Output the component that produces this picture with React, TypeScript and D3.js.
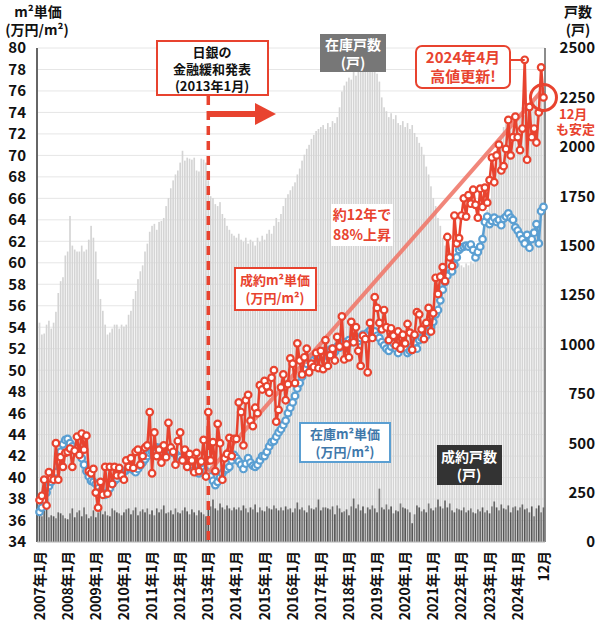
import React from "react";
import * as d3 from "d3";

// monthly data 2007-01 .. 2024-12
const years = d3.range(2007, 2025);
const months = years.flatMap((y) => d3.range(1, 13).map((m) => `${y}-${m}`));

// 成約m²単価 (万円/m²)
const contractPrice = [
  37.9, 38.3, 39.8, 37.4, 40.5, 39.9, 39.8, 43.2, 39.8, 41.9, 41.0, 42.3,
  42.4, 42.7, 41.0, 42.5, 43.8, 42.1, 44.1, 42.6, 43.9, 40.6, 40.4, 40.8,
  38.6, 37.2, 39.6, 38.4, 41.0, 38.5, 41.0, 39.4, 41.0, 40.2, 40.9, 40.2,
  39.8, 41.6, 41.0, 41.8, 40.9, 42.4, 42.6, 41.2, 42.0, 42.8, 43.0, 46.1,
  40.4, 44.2, 42.0, 42.6, 41.4, 43.0, 41.9, 45.1, 42.8, 42.4, 41.2, 43.4,
  44.2, 41.6, 42.6, 41.0, 42.2, 41.6, 40.5, 42.3, 40.6, 41.5, 43.5, 40.1,
  46.1, 41.6, 43.3, 40.6, 45.0, 43.2, 39.8, 41.8, 42.2, 43.7, 42.0, 43.6,
  43.6, 47.0, 46.1, 43.0, 47.2, 47.7, 45.3, 44.8, 46.5, 46.0, 48.6, 48.2,
  49.0, 48.5, 47.9, 49.3, 50.0, 45.2, 46.3, 48.4, 49.6, 47.2, 48.7, 51.1,
  50.6, 48.8, 52.5, 50.9, 49.6, 51.2, 52.0, 49.8, 50.6, 50.3, 51.6, 50.2,
  51.8, 50.1, 52.8, 50.4, 51.4, 52.0, 50.9, 53.1, 52.2, 55.0, 51.0, 52.4,
  51.2, 54.5, 52.6, 54.0, 51.8, 50.4, 53.2, 52.9, 49.8, 54.4, 53.0, 56.8,
  55.8, 54.4, 53.8, 55.6, 54.0, 52.8, 53.9, 53.2, 52.3, 53.6, 52.0, 53.3,
  52.5, 54.3, 53.5, 51.9, 53.3, 55.4, 55.2, 53.8, 52.9, 54.4, 55.8, 53.6,
  55.3, 58.6, 57.1, 58.7, 59.6, 58.3, 62.4, 60.5, 59.7, 64.4, 61.8, 62.3,
  64.4, 66.0, 64.3, 66.3, 65.5, 66.8, 65.4, 64.2, 66.9, 65.2, 67.0, 65.6,
  67.7, 69.8, 67.5, 70.0, 71.0, 68.6, 69.0, 70.6, 73.3, 70.0, 71.7, 73.6,
  71.7, 70.5, 72.5, 78.9, 69.6, 74.5, 71.7, 72.5, 71.2, 74.0, 78.2, 75.4,
];

// 在庫m²単価 (万円/m²)
const stockPrice = [
  36.8, 37.2, 37.9, 38.6, 39.2, 39.6, 40.0, 40.5, 41.5, 42.4, 43.1, 43.5,
  43.6, 43.2, 42.9, 42.6, 42.8, 42.3, 41.8, 41.2, 40.6, 40.1, 39.7, 39.6,
  39.4, 39.0, 38.7, 38.5, 38.4, 38.6, 39.0, 39.4, 39.7, 39.9, 40.2, 40.3,
  40.5, 40.7, 40.9, 41.0, 40.7, 40.5, 40.8, 41.1, 41.4, 41.7, 42.0, 42.3,
  42.4, 42.6, 42.8, 42.7, 42.8, 42.6, 42.5, 42.6, 42.4, 42.3, 42.2, 42.0,
  41.9, 41.7, 41.5, 41.3, 41.1, 40.9, 40.7, 40.5, 40.4, 40.6, 40.8, 40.6,
  40.4, 40.1, 39.7, 39.3, 39.6, 40.0, 40.4, 40.7, 40.8, 41.0, 41.6, 42.1,
  41.8, 41.5, 41.2, 40.8, 41.3, 41.8, 41.4, 41.1, 41.0, 41.2, 41.6, 42.0,
  42.0, 42.4, 42.9, 43.3, 43.4, 43.8, 44.2, 44.5, 44.9, 45.3, 46.0, 46.5,
  47.0, 47.6, 48.3, 48.8, 49.4, 50.2, 50.6, 50.9, 51.2, 51.0, 51.3, 51.4,
  51.5, 51.3, 51.8, 51.6, 51.9, 52.0, 51.7, 52.2, 52.1, 52.4, 52.6, 52.3,
  52.8, 52.6, 52.9, 53.1, 52.7, 53.0, 53.3, 53.2, 53.5, 53.7, 53.4, 53.6,
  53.2, 53.0, 52.6, 52.3, 52.0, 51.8, 52.2, 52.5, 52.0, 51.6, 52.0, 52.4,
  52.0, 51.6, 51.8, 52.2, 52.6, 52.0, 52.8, 53.0, 53.4, 53.2, 53.6, 54.0,
  54.5, 55.2, 55.6, 56.5, 57.5, 58.2, 58.8, 59.4, 59.2, 59.8, 60.5, 61.2,
  61.4, 61.5, 61.6, 61.5, 61.7, 61.2, 60.5, 61.0, 61.5, 62.2, 63.8, 64.3,
  63.6, 63.9, 64.2, 63.8, 64.0, 63.5, 64.1, 64.3, 64.6, 64.2, 64.0, 63.3,
  63.0, 62.6, 62.2, 61.8, 62.6, 61.4, 62.2, 62.8, 63.6, 61.8, 64.8, 65.2,
];

// 在庫戸数 (戸)
const stockUnits = [
  1110, 1050, 1055, 1100, 1120, 1080, 1110, 1165, 1260, 1320, 1340, 1450,
  1470, 1650, 1500, 1480, 1470, 1470, 1500, 1470, 1480, 1530, 1600, 1540,
  1470, 1330, 1230, 1170, 1100, 1050, 1060, 1080, 1100, 1100, 1080, 1100,
  1090, 1100, 1150, 1170, 1230, 1270, 1330, 1370, 1400, 1470, 1510, 1570,
  1600, 1610, 1580, 1620, 1625, 1640, 1700, 1740, 1790, 1830, 1860, 1880,
  1920, 1980, 1930, 1945, 1940, 1935, 1945, 1880, 1875, 1940, 1935, 1920,
  1830, 1750, 1740, 1710, 1700, 1720, 1660, 1640, 1600, 1580, 1560, 1550,
  1540, 1560, 1530, 1520, 1540, 1510, 1530, 1520, 1500, 1540, 1520, 1550,
  1530, 1560, 1580, 1560, 1600, 1640, 1620, 1660, 1700, 1740, 1760, 1780,
  1800, 1820, 1860, 1890, 1930, 1960, 1990, 2010, 2040, 2060, 2080, 2090,
  2100, 2110, 2090, 2120, 2100, 2130, 2120, 2150, 2200, 2280, 2310, 2330,
  2350, 2340, 2380, 2360, 2400, 2410, 2390, 2420, 2400, 2410, 2380, 2400,
  2370, 2330, 2250, 2200, 2180, 2150, 2170, 2140, 2160, 2120, 2110, 2130,
  2100, 2120, 2090, 2110, 2070, 2050, 2020, 2000, 1960, 1900, 1860, 1800,
  1740, 1700, 1640, 1600, 1540, 1500, 1480, 1460, 1450, 1430, 1420, 1410,
  1400, 1390, 1410, 1400, 1420, 1410, 1440, 1480, 1520, 1560, 1620, 1680,
  1740, 1800, 1860, 1920, 1980, 2040, 2100, 2120, 2080, 2140, 2100, 2130,
  2150, 2170, 2200, 2160, 2220, 2200, 2240, 2230, 2260, 2280, 2250, 2290,
];

// 成約戸数 (戸)
const soldUnits = [
  140, 130, 165, 175, 125, 135, 130, 120, 150, 145, 135, 120,
  115, 145, 170, 125, 150, 160, 130, 175, 140, 120, 130, 160,
  125, 150, 175, 140, 155, 135, 130, 170, 160, 150, 145, 135,
  150, 165, 170, 140, 160, 175, 135, 155, 165, 150, 170, 140,
  160, 135, 170, 150, 165, 185, 145, 150, 160, 140, 170, 150,
  145, 160, 175, 155, 140, 165, 150, 135, 160, 150, 140, 130,
  170, 180, 215, 170, 160, 195, 175, 165, 185, 170, 160, 175,
  165, 175, 160, 185, 170, 150, 175, 165, 190, 150, 175, 160,
  155, 180, 170, 165, 185, 170, 160, 175, 160, 180, 165, 170,
  150, 170, 200, 165, 175, 160, 150, 185, 170, 165, 175, 215,
  160, 175, 175, 170, 165, 180, 140, 185, 170, 150, 155, 165,
  135, 180, 220, 170, 190, 160, 180, 145, 175, 165, 185, 170,
  150, 270, 175, 165, 190, 165, 180, 145, 160, 155, 195, 175,
  170, 165, 150, 95, 140, 185, 175, 155, 165, 150, 195, 170,
  160, 175, 215, 180, 170, 210, 175, 195, 160, 150, 170, 165,
  160, 175, 150, 160, 170, 150, 145, 165, 155, 175, 150, 160,
  145, 180, 205, 175, 160, 190, 170, 165, 185, 150, 175, 180,
  160, 175, 190, 165, 170, 150, 180, 130, 170, 185, 150, 175,
];

const leftTicks = d3.range(34, 81, 2);
const rightTicks = [0, 250, 500, 750, 1000, 1250, 1500, 1750, 2000, 2250, 2500];
const xTickLabels = years.map((y) => `${y}年1月`);
const trendFrom = { month: "2013-1", value: 40.5 };
const trendTo = { month: "2024-12", value: 76.2 };

const RED = "#e8432f";
const BLUE = "#5b9fd2";
const FONT = "'Noto Sans CJK JP', 'Noto Sans', sans-serif";

export default function App() {
  const W = 600;
  const H = 628;
  const top = 48;
  const bottom = 542;
  const left = 38;
  const right = 545;

  const x = d3.scaleBand<string>().domain(months).range([left, right]).padding(0.3);
  const cx = (m: string) => (x(m) ?? 0) + x.bandwidth() / 2;
  const y = d3.scaleLinear().domain([34, 80]).range([bottom, top]);
  const yR = d3.scaleLinear().domain([0, 2500]).range([bottom, top]);

  const line = d3
    .line<number>()
    .x((_, i) => cx(months[i]))
    .y((d) => y(d));

  const dotR = 3.3;

  return (
    <svg
      width={W}
      height={H}
      style={{ position: "absolute", left: 0, top: 0, background: "#fff" }}
      fontFamily={FONT}
      fontWeight={700}
    >
      {/* grid */}
      <g>
        {leftTicks.map((t) => (
          <line key={t} x1={left} x2={right} y1={y(t)} y2={y(t)} stroke="#e6e6e6" strokeWidth={1} />
        ))}
      </g>

      {/* 在庫戸数 bars */}
      <g>
        {stockUnits.map((v, i) => (
          <rect
            key={i}
            x={x(months[i])}
            y={yR(v)}
            width={x.bandwidth()}
            height={bottom - yR(v)}
            fill="#d4d4d4"
          />
        ))}
      </g>

      {/* 成約戸数 bars */}
      <g>
        {soldUnits.map((v, i) => (
          <rect
            key={i}
            x={x(months[i])}
            y={yR(v)}
            width={x.bandwidth()}
            height={bottom - yR(v)}
            fill={i % 3 === 0 ? "#555" : i % 3 === 1 ? "#777" : "#666"}
          />
        ))}
      </g>

      {/* axes */}
      <line x1={left - 1} x2={left - 1} y1={top} y2={bottom} stroke="#333" strokeWidth={1.5} />
      <line x1={right} x2={right} y1={top} y2={bottom} stroke="#666" strokeWidth={1.5} />
      <line x1={left - 1} x2={right} y1={bottom} y2={bottom} stroke="#bbb" strokeWidth={1} />

      <g fontSize={15} fill="#111">
        {leftTicks.map((t) => (
          <text key={t} x={26} y={y(t)} dy="0.36em" textAnchor="end">
            {t}
          </text>
        ))}
      </g>
      <g fontSize={15} fill="#111">
        {rightTicks.map((t) => (
          <text key={t} x={595} y={yR(t)} dy="0.36em" textAnchor="end">
            {t}
          </text>
        ))}
      </g>

      {/* x labels */}
      <g fontSize={14} fill="#111">
        {xTickLabels.map((lab, i) => {
          const px = cx(`${years[i]}-1`);
          return (
            <text key={lab} transform={`translate(${px},${bottom + 9}) rotate(-90)`} textAnchor="end" dy="0.36em">
              {lab}
            </text>
          );
        })}
        <text transform={`translate(${cx("2024-12")},${bottom + 9}) rotate(-90)`} textAnchor="end" dy="0.36em">
          12月
        </text>
      </g>

      {/* axis titles */}
      <g fontSize={14} fill="#111" textAnchor="middle">
        <text x={38} y={17}>m²単価</text>
        <text x={37} y={35}>(万円/m²)</text>
        <text x={578} y={17}>戸数</text>
        <text x={578} y={35}>(戸)</text>
      </g>

      {/* 2013 dashed line + arrow */}
      <line
        x1={cx("2013-1")}
        x2={cx("2013-1")}
        y1={96}
        y2={bottom}
        stroke={RED}
        strokeWidth={3.5}
        strokeDasharray="9 6"
      />
      <line x1={cx("2013-1")} x2={258} y1={114} y2={114} stroke={RED} strokeWidth={6} />
      <path d="M255,103 L276,114 L255,125 Z" fill={RED} />

      {/* blue line */}
      <path d={line(stockPrice) ?? ""} fill="none" stroke={BLUE} strokeWidth={2.5} />
      <g>
        {stockPrice.map((v, i) => (
          <circle key={i} cx={cx(months[i])} cy={y(v)} r={dotR} fill="#fff" stroke={BLUE} strokeWidth={2.2} />
        ))}
      </g>

      {/* trend */}
      <line
        x1={cx(trendFrom.month)}
        y1={y(trendFrom.value)}
        x2={cx(trendTo.month)}
        y2={y(trendTo.value)}
        stroke="#f07a6c"
        strokeWidth={4}
        opacity={0.9}
      />

      {/* red line */}
      <path d={line(contractPrice) ?? ""} fill="none" stroke={RED} strokeWidth={2.5} />
      <g>
        {contractPrice.map((v, i) => (
          <circle key={i} cx={cx(months[i])} cy={y(v)} r={dotR} fill="#fff" stroke={RED} strokeWidth={2.2} />
        ))}
      </g>

      {/* annotation boxes */}
      <rect x={157} y={41} width={111} height={54} fill="#fff" stroke={RED} strokeWidth={2} />
      <g fontSize={13} fill="#111" textAnchor="middle">
        <text x={212} y={57}>日銀の</text>
        <text x={212} y={74}>金融緩和発表</text>
        <text x={212} y={91}>(2013年1月)</text>
      </g>

      <rect x={320} y={34} width={66} height={38} fill="#777" />
      <g fontSize={14} fill="#fff" textAnchor="middle">
        <text x={353} y={50}>在庫戸数</text>
        <text x={353} y={68}>(戸)</text>
      </g>

      <line x1={510} x2={cx("2024-4")} y1={60} y2={60} stroke={RED} strokeWidth={2} />
      <rect x={416} y={46} width={94} height={42} rx={6} fill="#fff" stroke={RED} strokeWidth={2} />
      <g fontSize={15} fill={RED} textAnchor="middle">
        <text x={463} y={63}>2024年4月</text>
        <text x={463} y={82}>高値更新!</text>
      </g>

      <circle cx={cx("2024-12")} cy={y(contractPrice[215])} r={13} fill="none" stroke={RED} strokeWidth={3} />
      <g fontSize={13} fill={RED}>
        <text x={559} y={119}>12月</text>
        <text x={556} y={134}>も安定</text>
      </g>

      <rect x={331} y={204} width={62} height={42} fill="#fff" />
      <g fontSize={14} fill={RED} textAnchor="middle">
        <text x={362} y={220}>約12年で</text>
        <text x={362} y={240}>88%上昇</text>
      </g>

      <rect x={235} y={268} width={81} height={42} fill="#fff" stroke={RED} strokeWidth={2} />
      <g fontSize={13} fill={RED} textAnchor="middle">
        <text x={275} y={285}>成約m²単価</text>
        <text x={275} y={303}>(万円/m²)</text>
      </g>

      <rect x={300} y={423} width={90} height={39} fill="#fff" stroke={BLUE} strokeWidth={2} />
      <g fontSize={13} fill="#3f78aa" textAnchor="middle">
        <text x={345} y={439}>在庫m²単価</text>
        <text x={345} y={457}>(万円/m²)</text>
      </g>

      <rect x={437} y={445} width={65} height={40} fill="#333" />
      <g fontSize={14} fill="#fff" textAnchor="middle">
        <text x={469} y={462}>成約戸数</text>
        <text x={469} y={480}>(戸)</text>
      </g>
    </svg>
  );
}
